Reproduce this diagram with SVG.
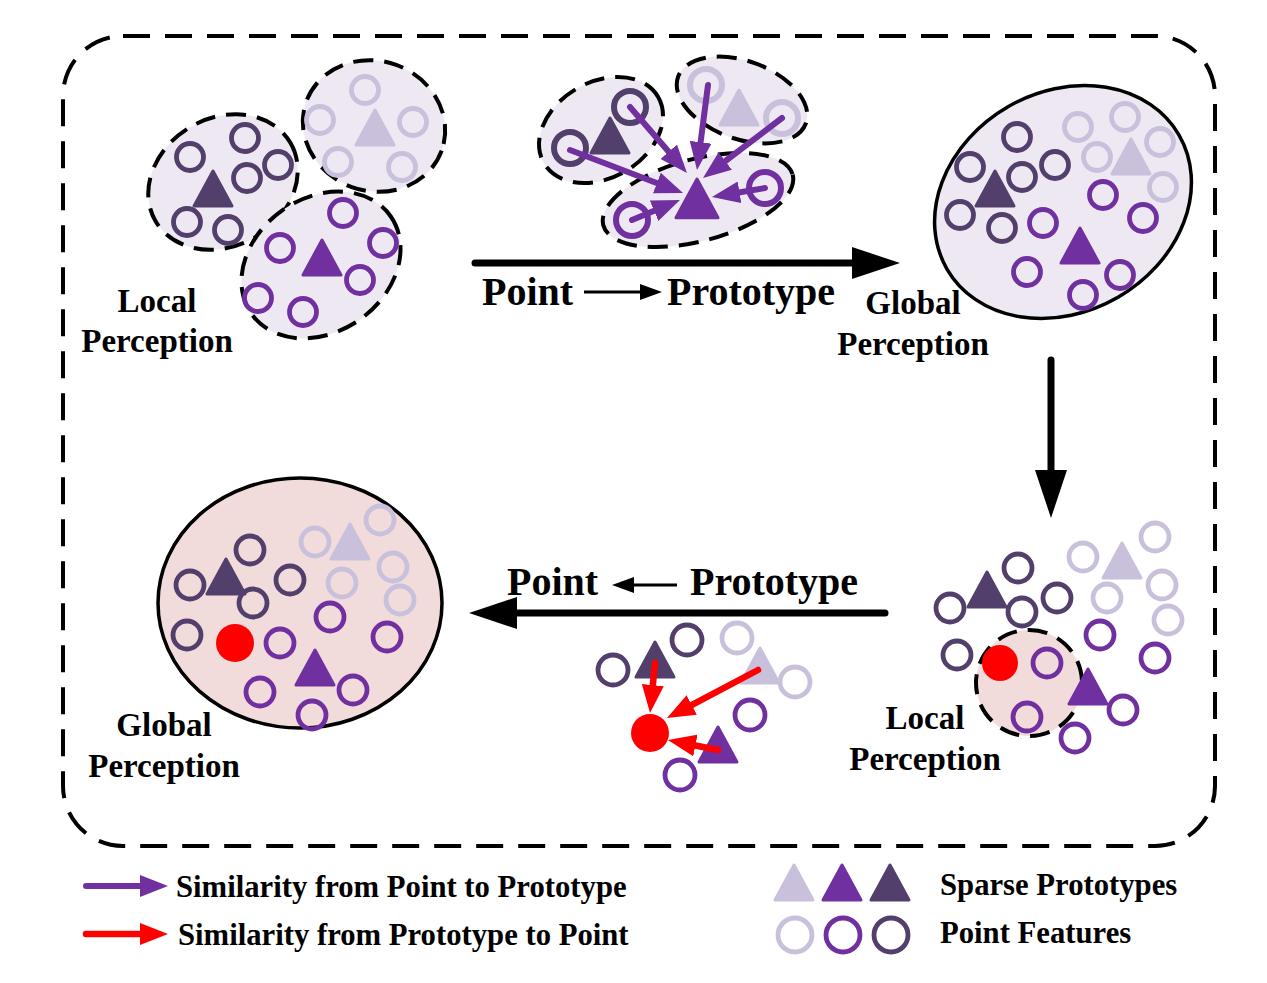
<svg xmlns="http://www.w3.org/2000/svg" width="1267" height="983" viewBox="0 0 1267 983">
<style>
.bg{fill:#fff}
.frame{fill:none;stroke:#000;stroke-width:4;stroke-dasharray:27 15}
.dash{fill:#EDE8F2;stroke:#000;stroke-width:4;stroke-dasharray:20 11}
.solid{fill:#EDE8F2;stroke:#000;stroke-width:3.5}
.pink{fill:#F2DCDB;stroke:#000;stroke-width:3.5}
.pinkd{fill:#F2DCDB;stroke:#000;stroke-width:4;stroke-dasharray:20 11}
.cl,.cm,.cd{fill:none;stroke-width:4.8}
.cl{stroke:#C9C0DB}.cm{stroke:#7030A0}.cd{stroke:#533F6B}
.big circle{stroke-width:6}
.tl{fill:#C9C0DB;stroke:#C9C0DB}.tm{fill:#7030A0;stroke:#7030A0}.td{fill:#533F6B;stroke:#533F6B}
.red{fill:#FF0000}
.lbl{font-family:"Liberation Serif","Times New Roman",serif;font-weight:bold;font-size:33px;fill:#000;text-anchor:middle}
.ttl{font-family:"Liberation Serif","Times New Roman",serif;font-weight:bold;font-size:40px;fill:#000}
.leg{font-family:"Liberation Serif","Times New Roman",serif;font-weight:bold;font-size:30.7px;fill:#000}
.pa{stroke:#7030A0;stroke-width:6;fill:none;stroke-linecap:round}
.ra{stroke:#FF0000;stroke-width:6.5;fill:none;stroke-linecap:round}
.ka{stroke:#000;stroke-width:7;fill:none;stroke-linecap:round}
.sa{stroke:#000;stroke-width:3;fill:none}
</style>
<defs>
<path id="tri" d="M0,-18 L19,17 L-19,17 Z" stroke-width="3" stroke-linejoin="round"/>
<marker id="mp" markerUnits="userSpaceOnUse" markerWidth="28" markerHeight="22" refX="4" refY="11" orient="auto" viewBox="0 0 28 22"><path d="M0,0 L28,11 L0,22 Z" fill="#7030A0"/></marker>
<marker id="mr" markerUnits="userSpaceOnUse" markerWidth="28" markerHeight="22" refX="4" refY="11" orient="auto" viewBox="0 0 28 22"><path d="M0,0 L28,11 L0,22 Z" fill="#FF0000"/></marker>
<marker id="mk" markerUnits="userSpaceOnUse" markerWidth="48" markerHeight="32" refX="2" refY="16" orient="auto" viewBox="0 0 48 32"><path d="M0,0 L48,16 L0,32 Z" fill="#000"/></marker>
<marker id="ms" markerUnits="userSpaceOnUse" markerWidth="22" markerHeight="16" refX="2" refY="8" orient="auto" viewBox="0 0 22 16"><path d="M0,0 L22,8 L0,16 Z" fill="#000"/></marker>
</defs>
<rect class="bg" width="1267" height="983"/>
<rect id="frame" class="frame" x="63" y="36" width="1152" height="810" rx="60"/>

<g id="tl-local">
<ellipse class="dash" cx="223" cy="182" rx="78" ry="64" transform="rotate(-30 223 182)"/>
<ellipse class="dash" cx="374" cy="126" rx="72" ry="65" transform="rotate(20 374 126)"/>
<ellipse class="dash" cx="321" cy="265" rx="85" ry="67" transform="rotate(-35 321 265)"/>
<use href="#tri" class="td" x="213" y="189"/>
<use href="#tri" class="tl" x="375" y="128"/>
<use href="#tri" class="tm" x="322" y="258"/>
<g class="cd"><circle cx="245" cy="138" r="13.5"/><circle cx="190" cy="157" r="13.5"/><circle cx="247" cy="178" r="13.5"/><circle cx="278" cy="165" r="13.5"/><circle cx="187" cy="222" r="13.5"/><circle cx="228" cy="230" r="13.5"/></g>
<g class="cl"><circle cx="365" cy="90" r="13.5"/><circle cx="320" cy="120" r="13.5"/><circle cx="413" cy="122" r="13.5"/><circle cx="338" cy="162" r="13.5"/><circle cx="402" cy="167" r="13.5"/></g>
<g class="cm"><circle cx="343" cy="213" r="13.5"/><circle cx="280" cy="248" r="13.5"/><circle cx="383" cy="243" r="13.5"/><circle cx="360" cy="280" r="13.5"/><circle cx="258" cy="298" r="13.5"/><circle cx="303" cy="312" r="13.5"/></g>
</g>

<g id="tm-p2p" class="big">
<ellipse class="dash" cx="601" cy="130" rx="66" ry="48" transform="rotate(-30 601 130)"/>
<ellipse class="dash" cx="742" cy="100" rx="68" ry="39" transform="rotate(20 742 100)"/>
<ellipse class="dash" cx="698" cy="200" rx="98" ry="41" transform="rotate(-15 698 200)"/>
<use href="#tri" class="td" x="610" y="136"/>
<use href="#tri" class="tl" x="739" y="108"/>
<use href="#tri" class="tm" x="697" y="199" transform="translate(697 199) scale(1.1) translate(-697 -199)"/>
<g class="cd"><circle cx="630" cy="107" r="16"/><circle cx="570" cy="148" r="16"/></g>
<g class="cl"><circle cx="706" cy="85" r="16"/><circle cx="782" cy="118" r="16"/></g>
<g class="cm"><circle cx="632" cy="220" r="16"/><circle cx="765" cy="188" r="16"/></g>
</g>

<g id="tr-global">
<ellipse class="solid" cx="1063" cy="202" rx="134" ry="110" transform="rotate(-30 1063 202)"/>
<use href="#tri" class="td" x="995" y="189"/>
<use href="#tri" class="tl" x="1131" y="157"/>
<use href="#tri" class="tm" x="1080" y="246"/>
<g class="cd"><circle cx="1017" cy="137" r="13.5"/><circle cx="970" cy="167" r="13.5"/><circle cx="1055" cy="165" r="13.5"/><circle cx="1022" cy="177" r="13.5"/><circle cx="960" cy="215" r="13.5"/><circle cx="1002" cy="228" r="13.5"/></g>
<g class="cl"><circle cx="1078" cy="127" r="13.5"/><circle cx="1125" cy="117" r="13.5"/><circle cx="1160" cy="142" r="13.5"/><circle cx="1097" cy="157" r="13.5"/><circle cx="1163" cy="187" r="13.5"/></g>
<g class="cm"><circle cx="1103" cy="195" r="13.5"/><circle cx="1143" cy="218" r="13.5"/><circle cx="1043" cy="223" r="13.5"/><circle cx="1027" cy="272" r="13.5"/><circle cx="1120" cy="275" r="13.5"/><circle cx="1083" cy="295" r="13.5"/></g>
</g>

<g id="br-local">
<circle class="pinkd" cx="1029" cy="683" r="53"/>
<circle class="red" cx="1000" cy="663" r="18"/>
<use href="#tri" class="td" x="987" y="590"/>
<use href="#tri" class="tl" x="1122" y="561"/>
<use href="#tri" class="tm" x="1088" y="687"/>
<g class="cd"><circle cx="1018" cy="568" r="14"/><circle cx="950" cy="608" r="14"/><circle cx="1022" cy="612" r="14"/><circle cx="1057" cy="598" r="14"/><circle cx="957" cy="655" r="14"/></g>
<g class="cl"><circle cx="1083" cy="557" r="14"/><circle cx="1155" cy="537" r="14"/><circle cx="1162" cy="585" r="14"/><circle cx="1107" cy="598" r="14"/><circle cx="1168" cy="620" r="14"/></g>
<g class="cm"><circle cx="1100" cy="635" r="14"/><circle cx="1155" cy="658" r="14"/><circle cx="1047" cy="663" r="14"/><circle cx="1027" cy="717" r="14"/><circle cx="1123" cy="710" r="14"/><circle cx="1075" cy="738" r="14"/></g>
</g>

<g id="bm-p2p">
<use href="#tri" class="td" x="655" y="660"/>
<use href="#tri" class="tl" x="760" y="666"/>
<use href="#tri" class="tm" x="718" y="745"/>
<g class="cd"><circle cx="613" cy="670" r="15"/><circle cx="687" cy="640" r="15"/></g>
<g class="cl"><circle cx="737" cy="638" r="15"/><circle cx="795" cy="682" r="15"/></g>
<g class="cm"><circle cx="750" cy="715" r="15"/><circle cx="680" cy="775" r="15"/></g>
<circle class="red" cx="650" cy="733" r="19"/>
</g>

<g id="bl-global">
<ellipse class="pink" cx="300" cy="603" rx="142" ry="125"/>
<use href="#tri" class="td" x="226" y="577"/>
<use href="#tri" class="tl" x="350" y="542"/>
<use href="#tri" class="tm" x="315" y="668"/>
<g class="cd"><circle cx="250" cy="550" r="14"/><circle cx="190" cy="585" r="14"/><circle cx="290" cy="580" r="14"/><circle cx="253" cy="603" r="14"/><circle cx="187" cy="635" r="14"/></g>
<g class="cl"><circle cx="315" cy="542" r="14"/><circle cx="380" cy="520" r="14"/><circle cx="393" cy="567" r="14"/><circle cx="342" cy="583" r="14"/><circle cx="400" cy="600" r="14"/></g>
<g class="cm"><circle cx="330" cy="617" r="14"/><circle cx="387" cy="637" r="14"/><circle cx="280" cy="643" r="14"/><circle cx="260" cy="692" r="14"/><circle cx="353" cy="690" r="14"/><circle cx="312" cy="715" r="14"/></g>
<circle class="red" cx="235" cy="643" r="19"/>
</g>

<g id="connectors">
<line class="pa" x1="570" y1="150" x2="660.6" y2="184.5" marker-end="url(#mp)"/>
<line class="pa" x1="630" y1="107" x2="671.3" y2="154.8" marker-end="url(#mp)"/>
<line class="pa" x1="708" y1="85" x2="700.1" y2="146.2" marker-end="url(#mp)"/>
<line class="pa" x1="782" y1="118" x2="722.1" y2="163.5" marker-end="url(#mp)"/>
<line class="pa" x1="765" y1="188" x2="735.6" y2="193" marker-end="url(#mp)"/>
<line class="pa" x1="632" y1="220" x2="657.8" y2="209.2" marker-end="url(#mp)"/>
<line class="ra" x1="655" y1="663" x2="652.4" y2="689.1" marker-end="url(#mr)"/>
<line class="ra" x1="758" y1="670" x2="688.2" y2="706.8" marker-end="url(#mr)"/>
<line class="ra" x1="718" y1="750" x2="691.5" y2="744.7" marker-end="url(#mr)"/>
<line class="ka" x1="475" y1="263" x2="854" y2="263" marker-end="url(#mk)"/>
<line class="ka" x1="1051" y1="360" x2="1051" y2="472" marker-end="url(#mk)"/>
<line class="ka" x1="885" y1="613" x2="515" y2="613" marker-end="url(#mk)"/>
<line class="sa" x1="584" y1="292" x2="642" y2="292" marker-end="url(#ms)"/>
<line class="sa" x1="677" y1="585" x2="632" y2="585" marker-end="url(#ms)"/>
</g>

<g id="labels">
<text class="ttl" x="482" y="305">Point</text>
<text class="ttl" x="667" y="305">Prototype</text>
<text class="ttl" x="507" y="595">Point</text>
<text class="ttl" x="690" y="595">Prototype</text>
<text class="lbl" x="157" y="312">Local</text>
<text class="lbl" x="157" y="352">Perception</text>
<text class="lbl" x="913" y="314">Global</text>
<text class="lbl" x="913" y="355">Perception</text>
<text class="lbl" x="925" y="729">Local</text>
<text class="lbl" x="925" y="770">Perception</text>
<text class="lbl" x="164" y="736">Global</text>
<text class="lbl" x="164" y="777">Perception</text>
</g>

<g id="legend-arrows">
<line class="pa" x1="86" y1="886" x2="144" y2="886" marker-end="url(#mp)"/>
<text class="leg" x="176" y="897">Similarity from Point to Prototype</text>
<line class="ra" x1="86" y1="934" x2="144" y2="934" marker-end="url(#mr)"/>
<text class="leg" x="178" y="945">Similarity from Prototype to Point</text>
</g>
<g id="legend-symbols">
<use href="#tri" class="tl" x="794" y="883"/>
<use href="#tri" class="tm" x="842" y="883"/>
<use href="#tri" class="td" x="890" y="883"/>
<circle class="cl" cx="795" cy="935" r="17"/>
<circle class="cm" cx="843" cy="935" r="17"/>
<circle class="cd" cx="891" cy="935" r="17"/>
<text class="leg" x="940" y="895">Sparse Prototypes</text>
<text class="leg" x="940" y="943">Point Features</text>
</g>
</svg>
